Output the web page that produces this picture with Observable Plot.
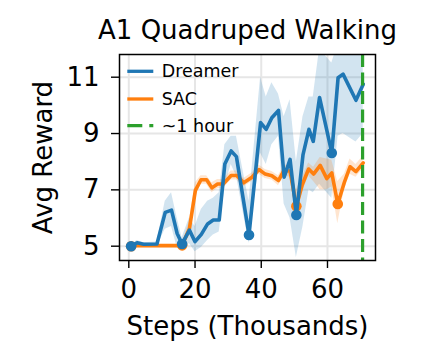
<!DOCTYPE html>
<html>
<head>
<meta charset="utf-8">
<script src="https://cdn.jsdelivr.net/npm/d3@7"></script>
<script src="https://cdn.jsdelivr.net/npm/@observablehq/plot@0.6"></script>
<style>
  html, body { margin: 0; padding: 0; background: white; }
  #wrap { position: relative; width: 433px; height: 358px; }
  #legend { position: absolute; left: 0; top: 0; pointer-events: none; }
</style>
</head>
<body>
<div id="wrap"></div>
<script>
// ---- data ----
const title = "A1 Quadruped Walking";
const xLabel = "Steps (Thousands)";
const yLabel = "Avg Reward";
const xTicks = [0, 20, 40, 60];
const yTicks = [5, 7, 9, 11];
const hourMark = [70.6];

const dreamerX  = [0.7, 2.5, 4.5, 8.5, 11.0, 12.9, 14.6, 16.1, 18.3, 20.0, 21.9, 23.8, 25.5, 27.3, 29.0, 30.9, 32.5, 36.3, 39.8, 41.5, 43.2, 45.2, 46.9, 48.7, 50.6, 52.6, 54.4, 55.7, 57.6, 61.3, 63.2, 64.7, 68.6, 70.8];
const dreamerY  = [5.0, 5.12, 5.07, 5.08, 6.2, 6.28, 5.45, 5.08, 5.57, 5.16, 5.42, 5.79, 5.93, 5.93, 7.92, 8.38, 8.18, 5.4, 9.39, 9.15, 9.56, 9.82, 7.45, 8.08, 6.11, 8.24, 9.15, 8.72, 10.28, 8.31, 10.98, 11.11, 10.18, 10.75];
const dreamerLo = [4.97, 5.05, 5.02, 5.0, 5.6, 5.7, 4.95, 4.9, 5.1, 4.8, 4.95, 5.2, 5.4, 5.5, 7.1, 7.9, 7.5, 5.1, 8.3, 7.9, 8.6, 8.9, 6.5, 6.0, 4.6, 5.7, 7.0, 6.9, 7.2, 6.7, 8.9, 9.0, 8.7, 9.0];
const dreamerHi = [5.05, 5.2, 5.12, 5.15, 6.6, 6.9, 6.0, 5.3, 6.0, 5.7, 6.3, 6.6, 6.7, 6.9, 8.6, 8.9, 8.9, 6.6, 11.0, 10.3, 10.8, 10.4, 9.6, 10.2, 8.0, 9.6, 10.3, 10.3, 12.0, 11.5, 12.2, 12.3, 12.3, 12.3];
const dreamerDots = [0.7, 16.1, 36.3, 50.6, 61.3];

const sacX  = [0.7, 2.5, 4.5, 8.5, 11.0, 12.9, 14.6, 16.1, 18.3, 20.1, 21.8, 23.5, 25.1, 26.8, 28.5, 30.9, 32.6, 34.7, 37.2, 39.3, 41.2, 43.2, 45.2, 46.9, 48.7, 50.6, 52.4, 54.3, 55.8, 57.8, 59.8, 61.3, 63.1, 65.1, 66.8, 68.6, 70.8];
const sacY  = [5.0, 5.02, 5.02, 5.02, 5.02, 5.02, 5.02, 5.03, 5.62, 6.98, 7.36, 7.36, 7.07, 7.21, 7.21, 7.51, 7.51, 7.25, 7.45, 7.72, 7.56, 7.5, 7.33, 7.7, 7.66, 6.42, 7.19, 7.74, 7.56, 7.87, 7.4, 7.6, 6.5, 7.27, 7.82, 7.65, 7.96];
const sacLo = [4.95, 4.97, 4.98, 4.98, 4.98, 4.98, 4.98, 4.97, 5.35, 6.7, 7.2, 7.2, 6.9, 7.05, 7.05, 7.35, 7.35, 7.1, 7.3, 7.55, 7.4, 7.35, 7.15, 7.5, 7.45, 6.0, 6.9, 7.5, 7.3, 7.0, 7.0, 7.1, 5.8, 7.0, 7.55, 7.45, 7.75];
const sacHi = [5.1, 5.07, 5.06, 5.06, 5.06, 5.06, 5.06, 5.08, 5.9, 7.25, 7.5, 7.5, 7.25, 7.37, 7.37, 7.67, 7.67, 7.4, 7.6, 7.88, 7.72, 7.65, 7.5, 7.88, 7.85, 7.0, 7.45, 7.95, 7.8, 8.15, 8.1, 8.05, 7.3, 7.55, 8.1, 7.9, 8.2];
const sacDots = [0.7, 16.1, 50.6, 63.1];

const series = [
  {name: "Dreamer", color: "#1f77b4"},
  {name: "SAC", color: "#ff7f0e"},
  {name: "~1 hour", color: "#2ca02c"}
];

// ---- tables ----
const dreamer = dreamerX.map((x, i) => ({x, y: dreamerY[i], lo: dreamerLo[i], hi: dreamerHi[i]}));
const sac = sacX.map((x, i) => ({x, y: sacY[i], lo: sacLo[i], hi: sacHi[i]}));
const dreamerMarked = dreamer.filter(d => dreamerDots.includes(d.x));
const sacMarked = sac.filter(d => sacDots.includes(d.x));

const font = "DejaVu Sans";
const chart = Plot.plot({
  width: 433,
  height: 358,
  marginLeft: 119,
  marginRight: 58,
  marginTop: 54,
  marginBottom: 98,
  style: {fontFamily: font, fontSize: "26px", color: "black", background: "white"},
  x: {domain: [-2.81, 74.5]},
  y: {domain: [4.492, 11.806]},
  marks: [
    Plot.gridX({ticks: xTicks, stroke: "#e6e6e6", strokeOpacity: 1, strokeWidth: 2}),
    Plot.gridY({ticks: yTicks, stroke: "#e6e6e6", strokeOpacity: 1, strokeWidth: 2}),
    Plot.areaY(dreamer, {x: "x", y1: "lo", y2: "hi", fill: series[0].color, fillOpacity: 0.2, clip: true}),
    Plot.areaY(sac, {x: "x", y1: "lo", y2: "hi", fill: series[1].color, fillOpacity: 0.2, clip: true}),
    Plot.lineY(sac, {x: "x", y: "y", stroke: series[1].color, strokeWidth: 3.6, strokeLinejoin: "round"}),
    Plot.dot(sacMarked, {x: "x", y: "y", r: 5.3, fill: series[1].color, stroke: "none"}),
    Plot.lineY(dreamer, {x: "x", y: "y", stroke: series[0].color, strokeWidth: 3.6, strokeLinejoin: "round"}),
    Plot.dot(dreamerMarked, {x: "x", y: "y", r: 5.3, fill: series[0].color, stroke: "none"}),
    Plot.ruleX(hourMark, {stroke: series[2].color, strokeWidth: 3.2, strokeDasharray: "13,5.5"}),
    Plot.frame({stroke: "black", strokeWidth: 1.5}),
    Plot.axisX({ticks: xTicks, tickSize: 8, tickPadding: 11.5, label: null, strokeWidth: 1.4, fontSize: 26}),
    Plot.axisY({ticks: yTicks, tickSize: 8, tickPadding: 12, label: null, strokeWidth: 1.4, fontSize: 26}),
    Plot.text([xLabel], {frameAnchor: "bottom", lineAnchor: "middle", dy: 65.7, fontSize: 26, fill: "black"}),
    Plot.text([yLabel], {frameAnchor: "left", textAnchor: "middle", lineAnchor: "middle", rotate: -90, dx: -75.6, fontSize: 26, fill: "black"}),
    Plot.text([title], {frameAnchor: "top", lineAnchor: "middle", dy: -24, fontSize: 26, fill: "black"})
  ]
});

const wrap = document.getElementById("wrap");
wrap.appendChild(chart);

// ---- legend (inside the axes, top-left) ----
const ns = "http://www.w3.org/2000/svg";
const leg = document.createElementNS(ns, "svg");
leg.setAttribute("id", "legend");
leg.setAttribute("width", 433);
leg.setAttribute("height", 358);
const rowY = [71.3, 99, 125.7];
series.forEach((s, i) => {
  const line = document.createElementNS(ns, "line");
  line.setAttribute("x1", 127.3);
  line.setAttribute("x2", 153.3);
  line.setAttribute("y1", rowY[i]);
  line.setAttribute("y2", rowY[i]);
  line.setAttribute("stroke", s.color);
  line.setAttribute("stroke-width", 3.3);
  if (i === 2) line.setAttribute("stroke-dasharray", "15,7");
  leg.appendChild(line);
  const t = document.createElementNS(ns, "text");
  t.setAttribute("x", 161.7);
  t.setAttribute("y", rowY[i]);
  t.setAttribute("dy", "0.35em");
  t.setAttribute("font-family", font);
  t.setAttribute("font-size", 17.5);
  t.setAttribute("fill", "black");
  t.textContent = s.name;
  leg.appendChild(t);
});
wrap.appendChild(leg);
</script>
</body>
</html>
